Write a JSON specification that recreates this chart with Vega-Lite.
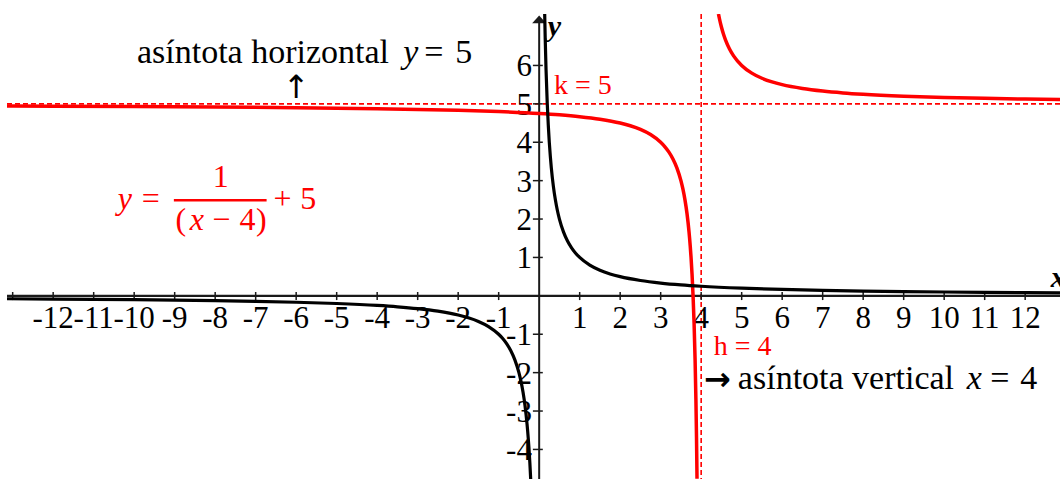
{
  "$schema": "https://vega.github.io/schema/vega-lite/v6.json",
  "width": 1053,
  "height": 465,
  "autosize": {"type": "none"},
  "padding": {"left": 7, "top": 14, "right": 0, "bottom": 0},
  "background": "white",
  "config": {
    "view": {"stroke": null},
    "axis": {"grid": true, "labels": false, "ticks": false, "domain": false, "title": null, "gridColor": "#c4dec4", "gridDash": [2, 2], "gridWidth": 1}
  },
  "datasets": {
    "hyp": [
      {"b": "L", "x": -13.14, "y": -0.0761}, {"b": "L", "x": -12, "y": -0.0833}, {"b": "L", "x": -11, "y": -0.0909}, {"b": "L", "x": -10, "y": -0.1}, {"b": "L", "x": -9, "y": -0.1111}, {"b": "L", "x": -8, "y": -0.125}, {"b": "L", "x": -7, "y": -0.1429}, {"b": "L", "x": -6, "y": -0.1667}, {"b": "L", "x": -5, "y": -0.2}, {"b": "L", "x": -4, "y": -0.25}, {"b": "L", "x": -3.5, "y": -0.2857}, {"b": "L", "x": -3, "y": -0.3333}, {"b": "L", "x": -2.5, "y": -0.4}, {"b": "L", "x": -2, "y": -0.5}, {"b": "L", "x": -1.75, "y": -0.5714}, {"b": "L", "x": -1.5, "y": -0.6667}, {"b": "L", "x": -1.25, "y": -0.8}, {"b": "L", "x": -1, "y": -1}, {"b": "L", "x": -0.9, "y": -1.1111}, {"b": "L", "x": -0.8, "y": -1.25}, {"b": "L", "x": -0.7, "y": -1.4286}, {"b": "L", "x": -0.6, "y": -1.6667}, {"b": "L", "x": -0.5, "y": -2}, {"b": "L", "x": -0.45, "y": -2.2222}, {"b": "L", "x": -0.4, "y": -2.5}, {"b": "L", "x": -0.35, "y": -2.8571}, {"b": "L", "x": -0.3, "y": -3.3333}, {"b": "L", "x": -0.27, "y": -3.7037}, {"b": "L", "x": -0.25, "y": -4}, {"b": "L", "x": -0.23, "y": -4.3478}, {"b": "L", "x": -0.2096, "y": -4.771},
      {"b": "R", "x": 0.1362, "y": 7.34}, {"b": "R", "x": 0.15, "y": 6.6667}, {"b": "R", "x": 0.17, "y": 5.8824}, {"b": "R", "x": 0.2, "y": 5}, {"b": "R", "x": 0.225, "y": 4.4444}, {"b": "R", "x": 0.25, "y": 4}, {"b": "R", "x": 0.275, "y": 3.6364}, {"b": "R", "x": 0.3, "y": 3.3333}, {"b": "R", "x": 0.35, "y": 2.8571}, {"b": "R", "x": 0.4, "y": 2.5}, {"b": "R", "x": 0.45, "y": 2.2222}, {"b": "R", "x": 0.5, "y": 2}, {"b": "R", "x": 0.6, "y": 1.6667}, {"b": "R", "x": 0.7, "y": 1.4286}, {"b": "R", "x": 0.8, "y": 1.25}, {"b": "R", "x": 0.9, "y": 1.1111}, {"b": "R", "x": 1, "y": 1}, {"b": "R", "x": 1.25, "y": 0.8}, {"b": "R", "x": 1.5, "y": 0.6667}, {"b": "R", "x": 1.75, "y": 0.5714}, {"b": "R", "x": 2, "y": 0.5}, {"b": "R", "x": 2.5, "y": 0.4}, {"b": "R", "x": 3, "y": 0.3333}, {"b": "R", "x": 3.5, "y": 0.2857}, {"b": "R", "x": 4, "y": 0.25}, {"b": "R", "x": 5, "y": 0.2}, {"b": "R", "x": 6, "y": 0.1667}, {"b": "R", "x": 7, "y": 0.1429}, {"b": "R", "x": 8, "y": 0.125}, {"b": "R", "x": 9, "y": 0.1111}, {"b": "R", "x": 10, "y": 0.1}, {"b": "R", "x": 11, "y": 0.0909}, {"b": "R", "x": 12, "y": 0.0833}, {"b": "R", "x": 12.86, "y": 0.0778}
    ],
    "shift": [
      {"b": "L", "x": -13.14, "y": 4.9417}, {"b": "L", "x": -12, "y": 4.9375}, {"b": "L", "x": -10, "y": 4.9286}, {"b": "L", "x": -8, "y": 4.9167}, {"b": "L", "x": -6, "y": 4.9}, {"b": "L", "x": -4, "y": 4.875}, {"b": "L", "x": -2, "y": 4.8333}, {"b": "L", "x": -1, "y": 4.8}, {"b": "L", "x": 0, "y": 4.75}, {"b": "L", "x": 0.5, "y": 4.7143}, {"b": "L", "x": 1, "y": 4.6667}, {"b": "L", "x": 1.5, "y": 4.6}, {"b": "L", "x": 2, "y": 4.5}, {"b": "L", "x": 2.25, "y": 4.4286}, {"b": "L", "x": 2.5, "y": 4.3333}, {"b": "L", "x": 2.75, "y": 4.2}, {"b": "L", "x": 3, "y": 4}, {"b": "L", "x": 3.1, "y": 3.8889}, {"b": "L", "x": 3.2, "y": 3.75}, {"b": "L", "x": 3.3, "y": 3.5714}, {"b": "L", "x": 3.4, "y": 3.3333}, {"b": "L", "x": 3.5, "y": 3}, {"b": "L", "x": 3.55, "y": 2.7778}, {"b": "L", "x": 3.6, "y": 2.5}, {"b": "L", "x": 3.65, "y": 2.1429}, {"b": "L", "x": 3.7, "y": 1.6667}, {"b": "L", "x": 3.73, "y": 1.2963}, {"b": "L", "x": 3.75, "y": 1}, {"b": "L", "x": 3.775, "y": 0.5556}, {"b": "L", "x": 3.8, "y": 0}, {"b": "L", "x": 3.825, "y": -0.7143}, {"b": "L", "x": 3.85, "y": -1.6667}, {"b": "L", "x": 3.87, "y": -2.6923}, {"b": "L", "x": 3.885, "y": -3.6957}, {"b": "L", "x": 3.8976, "y": -4.7656},
      {"b": "R", "x": 4.4274, "y": 7.3397}, {"b": "R", "x": 4.45, "y": 7.2222}, {"b": "R", "x": 4.5, "y": 7}, {"b": "R", "x": 4.55, "y": 6.8182}, {"b": "R", "x": 4.6, "y": 6.6667}, {"b": "R", "x": 4.7, "y": 6.4286}, {"b": "R", "x": 4.8, "y": 6.25}, {"b": "R", "x": 5, "y": 6}, {"b": "R", "x": 5.25, "y": 5.8}, {"b": "R", "x": 5.5, "y": 5.6667}, {"b": "R", "x": 5.75, "y": 5.5714}, {"b": "R", "x": 6, "y": 5.5}, {"b": "R", "x": 6.5, "y": 5.4}, {"b": "R", "x": 7, "y": 5.3333}, {"b": "R", "x": 7.5, "y": 5.2857}, {"b": "R", "x": 8, "y": 5.25}, {"b": "R", "x": 9, "y": 5.2}, {"b": "R", "x": 10, "y": 5.1667}, {"b": "R", "x": 11, "y": 5.1429}, {"b": "R", "x": 12, "y": 5.125}, {"b": "R", "x": 12.86, "y": 5.1129}
    ],
    "xt": [
      {"v": -13, "t": ""}, {"v": -12, "t": "-12"}, {"v": -11, "t": "-11"}, {"v": -10, "t": "-10"}, {"v": -9, "t": "-9"}, {"v": -8, "t": "-8"}, {"v": -7, "t": "-7"}, {"v": -6, "t": "-6"}, {"v": -5, "t": "-5"}, {"v": -4, "t": "-4"}, {"v": -3, "t": "-3"}, {"v": -2, "t": "-2"}, {"v": -1, "t": "-1"},
      {"v": 1, "t": "1"}, {"v": 2, "t": "2"}, {"v": 3, "t": "3"}, {"v": 4, "t": "4"}, {"v": 5, "t": "5"}, {"v": 6, "t": "6"}, {"v": 7, "t": "7"}, {"v": 8, "t": "8"}, {"v": 9, "t": "9"}, {"v": 10, "t": "10"}, {"v": 11, "t": "11"}, {"v": 12, "t": "12"}
    ],
    "yt": [
      {"v": -4, "t": "-4"}, {"v": -3, "t": "-3"}, {"v": -2, "t": "-2"}, {"v": -1, "t": "-1"}, {"v": 1, "t": "1"}, {"v": 2, "t": "2"}, {"v": 3, "t": "3"}, {"v": 4, "t": "4"}, {"v": 5, "t": "5"}, {"v": 6, "t": "6"}
    ]
  },
  "layer": [
    {
      "data": {"values": [{"h": 4}]},
      "mark": {"type": "rule", "color": "#ff0000", "strokeWidth": 1.6, "strokeDash": [5, 3]},
      "encoding": {
        "x": {"field": "h", "type": "quantitative", "scale": {"domain": [-13.14, 12.86], "nice": false, "zero": false}, "axis": {"values": [-13, -12, -11, -10, -9, -8, -7, -6, -5, -4, -3, -2, -1, 0, 1, 2, 3, 4, 5, 6, 7, 8, 9, 10, 11, 12]}}
      }
    },
    {
      "data": {"values": [{"k": 5}]},
      "mark": {"type": "rule", "color": "#ff0000", "strokeWidth": 1.6, "strokeDash": [5, 3]},
      "encoding": {
        "y": {"field": "k", "type": "quantitative", "scale": {"domain": [-4.77, 7.34], "nice": false, "zero": false}, "axis": {"values": [-4, -3, -2, -1, 0, 1, 2, 3, 4, 5, 6, 7]}}
      }
    },
    {
      "data": {"values": [{}]},
      "mark": {"type": "rule", "color": "#1a1a1a", "strokeWidth": 2.4},
      "encoding": {"y": {"datum": 0, "type": "quantitative", "axis": null}}
    },
    {
      "data": {"values": [{}]},
      "mark": {"type": "rule", "color": "#1a1a1a", "strokeWidth": 2},
      "encoding": {
        "x": {"datum": 0, "type": "quantitative", "axis": null},
        "y": {"datum": -4.77, "type": "quantitative", "axis": null},
        "y2": {"datum": 7.12}
      }
    },
    {
      "data": {"values": [{}]},
      "mark": {"type": "point", "filled": true, "color": "#1a1a1a", "opacity": 1, "size": 196, "shape": "M-1,0.55L0,-0.55L1,0.55Z"},
      "encoding": {
        "x": {"datum": 0, "type": "quantitative", "axis": null},
        "y": {"datum": 7.2, "type": "quantitative", "axis": null}
      }
    },
    {
      "data": {"name": "xt"},
      "mark": {"type": "rule", "color": "#1a1a1a", "strokeWidth": 1.5},
      "encoding": {
        "x": {"field": "v", "type": "quantitative", "axis": null},
        "y": {"datum": 0.1, "type": "quantitative", "axis": null},
        "y2": {"datum": -0.11}
      }
    },
    {
      "data": {"name": "yt"},
      "mark": {"type": "rule", "color": "#1a1a1a", "strokeWidth": 1.5},
      "encoding": {
        "y": {"field": "v", "type": "quantitative", "axis": null},
        "x": {"datum": -0.155, "type": "quantitative", "axis": null},
        "x2": {"datum": 0.09}
      }
    },
    {
      "data": {"name": "xt"},
      "mark": {"type": "text", "font": "Liberation Serif", "fontSize": 31, "color": "#000000", "align": "center", "baseline": "alphabetic"},
      "encoding": {
        "x": {"field": "v", "type": "quantitative", "axis": null},
        "y": {"datum": -0.85, "type": "quantitative", "axis": null},
        "text": {"field": "t"}
      }
    },
    {
      "data": {"name": "yt"},
      "mark": {"type": "text", "font": "Liberation Serif", "fontSize": 31, "color": "#000000", "align": "right", "baseline": "middle", "dy": 2},
      "encoding": {
        "y": {"field": "v", "type": "quantitative", "axis": null},
        "x": {"datum": -0.18, "type": "quantitative", "axis": null},
        "text": {"field": "t"}
      }
    },
    {
      "data": {"name": "shift"},
      "mark": {"type": "line", "color": "#ff0000", "strokeWidth": 3.5, "interpolate": "monotone", "clip": true},
      "encoding": {
        "x": {"field": "x", "type": "quantitative", "axis": null},
        "y": {"field": "y", "type": "quantitative", "axis": null},
        "detail": {"field": "b"}
      }
    },
    {
      "data": {"name": "hyp"},
      "mark": {"type": "line", "color": "#000000", "strokeWidth": 3.2, "interpolate": "monotone", "clip": true},
      "encoding": {
        "x": {"field": "x", "type": "quantitative", "axis": null},
        "y": {"field": "y", "type": "quantitative", "axis": null},
        "detail": {"field": "b"}
      }
    },
    {
      "data": {"values": [{"x": -9.932, "y": 6.06, "t": "asíntota horizontal"}, {"x": 4.906, "y": -2.43, "t": "asíntota vertical"}]},
      "mark": {"type": "text", "font": "Liberation Serif", "fontSize": 34, "color": "#000000", "align": "left", "baseline": "alphabetic"},
      "encoding": {
        "x": {"field": "x", "type": "quantitative", "axis": null},
        "y": {"field": "y", "type": "quantitative", "axis": null},
        "text": {"field": "t"}
      }
    },
    {
      "data": {"values": [{"x": -3.356, "y": 6.06, "t": "y"}, {"x": 10.56, "y": -2.43, "t": "x"}]},
      "mark": {"type": "text", "font": "Liberation Serif", "fontSize": 34, "fontStyle": "italic", "color": "#000000", "align": "left", "baseline": "alphabetic"},
      "encoding": {
        "x": {"field": "x", "type": "quantitative", "axis": null},
        "y": {"field": "y", "type": "quantitative", "axis": null},
        "text": {"field": "t"}
      }
    },
    {
      "data": {"values": [{"x": -2.6, "y": 6.06, "t": "="}, {"x": -1.86, "y": 6.06, "t": "5"}, {"x": 11.375, "y": -2.43, "t": "="}, {"x": 12.09, "y": -2.43, "t": "4"}]},
      "mark": {"type": "text", "font": "Liberation Serif", "fontSize": 34, "color": "#000000", "align": "center", "baseline": "alphabetic"},
      "encoding": {
        "x": {"field": "x", "type": "quantitative", "axis": null},
        "y": {"field": "y", "type": "quantitative", "axis": null},
        "text": {"field": "t"}
      }
    },
    {
      "data": {"values": [{"x": -6.0, "y": 5.42, "t": "↑"}]},
      "mark": {"type": "text", "font": "DejaVu Sans", "fontSize": 32, "color": "#000000", "align": "center", "baseline": "middle"},
      "encoding": {
        "x": {"field": "x", "type": "quantitative", "axis": null},
        "y": {"field": "y", "type": "quantitative", "axis": null},
        "text": {"field": "t"}
      }
    },
    {
      "data": {"values": [{"x": 4.4, "y": -2.195, "t": "→"}]},
      "mark": {"type": "text", "font": "DejaVu Sans", "fontSize": 32, "fontWeight": "bold", "color": "#000000", "align": "center", "baseline": "middle"},
      "encoding": {
        "x": {"field": "x", "type": "quantitative", "axis": null},
        "y": {"field": "y", "type": "quantitative", "axis": null},
        "text": {"field": "t"}
      }
    },
    {
      "data": {"values": [{"x": 0.364, "y": 5.25, "t": "k = 5"}, {"x": 4.31, "y": -1.544, "t": "h = 4"}]},
      "mark": {"type": "text", "font": "Liberation Serif", "fontSize": 28, "color": "#ff0000", "align": "left", "baseline": "alphabetic"},
      "encoding": {
        "x": {"field": "x", "type": "quantitative", "axis": null},
        "y": {"field": "y", "type": "quantitative", "axis": null},
        "text": {"field": "t"}
      }
    },
    {
      "data": {"values": [{"x": 12.63, "y": 0.23, "t": "x"}, {"x": 0.21, "y": 6.76, "t": "y"}]},
      "mark": {"type": "text", "font": "Liberation Serif", "fontSize": 30, "fontStyle": "italic", "fontWeight": "bold", "color": "#000000", "align": "left", "baseline": "alphabetic"},
      "encoding": {
        "x": {"field": "x", "type": "quantitative", "axis": null},
        "y": {"field": "y", "type": "quantitative", "axis": null},
        "text": {"field": "t"}
      }
    },
    {
      "data": {"values": [{"x": -10.23, "y": 2.26, "t": "y"}, {"x": -8.455, "y": 1.72, "t": "x"}]},
      "mark": {"type": "text", "font": "Liberation Serif", "fontSize": 32, "fontStyle": "italic", "color": "#ff0000", "align": "center", "baseline": "alphabetic"},
      "encoding": {
        "x": {"field": "x", "type": "quantitative", "axis": null},
        "y": {"field": "y", "type": "quantitative", "axis": null},
        "text": {"field": "t"}
      }
    },
    {
      "data": {"values": [{"x": -9.588, "y": 2.26, "t": "="}, {"x": -7.86, "y": 2.83, "t": "1"}, {"x": -6.34, "y": 2.26, "t": "+"}, {"x": -5.70, "y": 2.26, "t": "5"}, {"x": -8.85, "y": 1.72, "t": "("}, {"x": -7.85, "y": 1.72, "t": "−"}, {"x": -7.2, "y": 1.72, "t": "4"}, {"x": -6.86, "y": 1.72, "t": ")"}]},
      "mark": {"type": "text", "font": "Liberation Serif", "fontSize": 32, "color": "#ff0000", "align": "center", "baseline": "alphabetic"},
      "encoding": {
        "x": {"field": "x", "type": "quantitative", "axis": null},
        "y": {"field": "y", "type": "quantitative", "axis": null},
        "text": {"field": "t"}
      }
    },
    {
      "data": {"values": [{"x": -9.02, "x2": -6.73, "y": 2.49}]},
      "mark": {"type": "rule", "color": "#ff0000", "strokeWidth": 2.5},
      "encoding": {
        "x": {"field": "x", "type": "quantitative", "axis": null},
        "x2": {"field": "x2"},
        "y": {"field": "y", "type": "quantitative", "axis": null}
      }
    }
  ]
}
